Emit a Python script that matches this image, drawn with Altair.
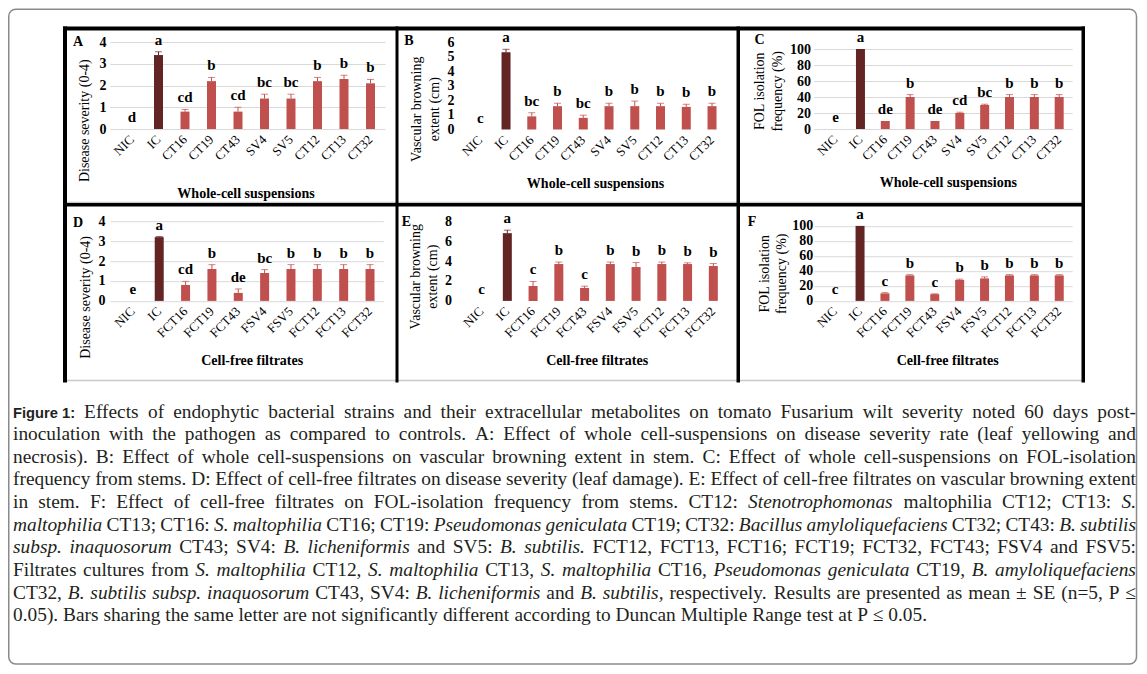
import altair as alt
import pandas as pd

# ---------------- data ----------------
cats_wc = ["NIC", "IC", "CT16", "CT19", "CT43", "SV4", "SV5", "CT12", "CT13", "CT32"]
cats_cf = ["NIC", "IC", "FCT16", "FCT19", "FCT43", "FSV4", "FSV5", "FCT12", "FCT13", "FCT32"]

sev_wc = [0, 3.4, 0.8, 2.2, 0.8, 1.4, 1.4, 2.2, 2.3, 2.1]
sev_wc_se = [0, 0.15, 0.1, 0.17, 0.2, 0.2, 0.2, 0.17, 0.17, 0.18]
sev_wc_let = ["d", "a", "cd", "b", "cd", "bc", "bc", "b", "b", "b"]

vb_wc = [0, 5.3, 0.9, 1.6, 0.8, 1.6, 1.6, 1.6, 1.55, 1.6]
vb_wc_se = [0, 0.2, 0.25, 0.2, 0.18, 0.2, 0.35, 0.2, 0.18, 0.2]
vb_wc_let = ["c", "a", "bc", "b", "bc", "b", "b", "b", "b", "b"]

fol_wc = [0, 100, 10, 40, 10, 20, 30, 40, 40, 40]
fol_wc_se = [0, 0, 0, 3, 0, 1, 1, 3, 3, 3]
fol_wc_let = ["e", "a", "de", "b", "de", "cd", "bc", "b", "b", "b"]

sev_cf = [0, 3.2, 0.8, 1.6, 0.4, 1.4, 1.6, 1.6, 1.6, 1.6]
sev_cf_se = [0, 0.03, 0.18, 0.22, 0.2, 0.17, 0.22, 0.22, 0.22, 0.22]
sev_cf_let = ["e", "a", "cd", "b", "de", "bc", "b", "b", "b", "b"]

vb_cf = [0, 6.8, 1.5, 3.7, 1.3, 3.7, 3.4, 3.7, 3.7, 3.5]
vb_cf_se = [0, 0.3, 0.45, 0.2, 0.18, 0.2, 0.45, 0.2, 0.12, 0.25]
vb_cf_let = ["c", "a", "c", "b", "c", "b", "b", "b", "b", "b"]

fol_cf = [0, 100, 10, 34, 9, 28, 30, 34, 34, 34]
fol_cf_se = [0, 0, 1, 1, 0.5, 1, 2, 1, 1, 1]
fol_cf_let = ["c", "a", "c", "b", "c", "b", "b", "b", "b", "b"]

CAPTION_LINES = [
    [("b", "Figure 1:"), ("n", "Effects of endophytic bacterial strains and their extracellular metabolites on tomato Fusarium wilt severity noted 60 days post-")],
    [("n", "inoculation with the pathogen as compared to controls. A: Effect of whole cell-suspensions on disease severity rate (leaf yellowing and")],
    [("n", "necrosis). B: Effect of whole cell-suspensions on vascular browning extent in stem. C: Effect of whole cell-suspensions on FOL-isolation")],
    [("n", "frequency from stems. D: Effect of cell-free filtrates on disease severity (leaf damage). E: Effect of cell-free filtrates on vascular browning extent")],
    [("n", "in stem. F: Effect of cell-free filtrates on FOL-isolation frequency from stems. CT12:"), ("i", "Stenotrophomonas"), ("n", "maltophilia CT12; CT13:"), ("i", "S.")],
    [("i", "maltophilia"), ("n", "CT13; CT16:"), ("i", "S. maltophilia"), ("n", "CT16; CT19:"), ("i", "Pseudomonas geniculata"), ("n", "CT19; CT32:"), ("i", "Bacillus amyloliquefaciens"), ("n", "CT32; CT43:"), ("i", "B. subtilis")],
    [("i", "subsp. inaquosorum"), ("n", "CT43; SV4:"), ("i", "B. licheniformis"), ("n", "and SV5:"), ("i", "B. subtilis."), ("n", "FCT12, FCT13, FCT16; FCT19; FCT32, FCT43; FSV4 and FSV5:")],
    [("n", "Filtrates cultures from"), ("i", "S. maltophilia"), ("n", "CT12,"), ("i", "S. maltophilia"), ("n", "CT13,"), ("i", "S. maltophilia"), ("n", "CT16,"), ("i", "Pseudomonas geniculata"), ("n", "CT19,"), ("i", "B. amyloliquefaciens")],
    [("n", "CT32,"), ("i", "B. subtilis subsp. inaquosorum"), ("n", "CT43, SV4:"), ("i", "B. licheniformis"), ("n", "and"), ("i", "B. subtilis,"), ("n", "respectively. Results are presented as mean ± SE (n=5, P ≤")],
    [("n", "0.05). Bars sharing the same letter are not significantly different according to Duncan Multiple Range test at P ≤ 0.05.")],
]

# ---------------- style ----------------
RED = "#C0504D"
DARK = "#632523"
SERIF = "Liberation Serif"

# page position of the first plot (A) and caption cell origin
PX0, PY0 = 110.0, 42.3
ROW1_H, ROW2_H = 87.5, 79.7
VSP, HSP = 91.2, 82.4
OX = PX0
OY = PY0 + ROW1_H + VSP + ROW2_H + VSP
TLH = 17.5  # line height of the two-line y titles


def panel(cats, vals, ses, lets, ymax, yvals, grid, W, H, S, L, letter, lpos,
          ytitle, ytpos, ylabpad, xtitle, xtpos):
    df = pd.DataFrame({
        "cat": cats,
        "mean": vals,
        "hi": [v + s for v, s in zip(vals, ses)],
        "let": lets,
        "kind": ["ic" if c == "IC" else "o" for c in cats],
    })
    extra = W - 10 * S
    po = max(extra, 0) / (2 * S)
    align = (L / extra) if extra > 0.01 else 0.5
    align = min(max(align, 0), 1)
    tx = ytpos[0]
    if isinstance(ytitle, list):
        tx -= TLH * (len(ytitle) - 1) / 2
    xscale = alt.Scale(domain=cats, paddingInner=0, paddingOuter=po, align=align)
    xaxis = alt.Axis(domain=False, ticks=False, labelAngle=315, labelAlign="right",
                     labelBaseline="middle", labelPadding=8, labelFont=SERIF,
                     labelFontSize=13, labelColor="black", title=xtitle,
                     titleFont=SERIF, titleFontSize=14, titleFontWeight="bold",
                     titleColor="black", titleX=xtpos[0], titleY=xtpos[1],
                     titleAlign="center", titleBaseline="middle")
    yscale = alt.Scale(domain=[0, ymax], nice=False, zero=True)
    yaxis = alt.Axis(values=yvals, grid=grid, gridColor="#d9d9d9", gridWidth=1,
                     domain=False, ticks=False, labelPadding=ylabpad, labelFont=SERIF,
                     labelFontSize=14, labelFontWeight="bold", labelColor="black",
                     title=ytitle, titleFont=SERIF, titleFontSize=14,
                     titleFontWeight="normal", titleColor="black", titleAngle=270,
                     titleAlign="center", titleBaseline="middle", titleX=tx,
                     titleY=ytpos[1], titleLineHeight=TLH)
    color = alt.Color("kind:N", scale=alt.Scale(domain=["ic", "o"], range=[DARK, RED]),
                      legend=None)
    base = alt.Chart(df).encode(x=alt.X("cat:N", sort=cats, scale=xscale, axis=xaxis))
    bars = base.mark_bar(size=9).encode(
        y=alt.Y("mean:Q", scale=yscale, axis=yaxis), color=color)
    err = base.transform_filter("datum.hi > datum.mean").mark_rule(strokeWidth=1).encode(
        y=alt.Y("mean:Q", scale=yscale, axis=yaxis), y2="hi:Q", color=color)
    cap = base.transform_filter("datum.hi > datum.mean").mark_tick(thickness=1, size=7).encode(
        y=alt.Y("hi:Q", scale=yscale, axis=yaxis), color=color)
    txt = base.mark_text(font=SERIF, fontSize=15, fontWeight="bold", baseline="alphabetic",
                         dy=-7, color="black").encode(
        y=alt.Y("hi:Q", scale=yscale, axis=yaxis), text="let:N")
    lab = alt.Chart(pd.DataFrame({"t": [letter]})).mark_text(
        font=SERIF, fontSize=14, fontWeight="bold", align="center", baseline="middle",
        color="black").encode(x=alt.value(lpos[0]), y=alt.value(lpos[1]), text="t:N")
    return alt.layer(bars, err, cap, txt, lab).properties(width=W, height=H)


pA = panel(cats_wc, sev_wc, sev_wc_se, sev_wc_let, 4, [0, 1, 2, 3, 4], True,
           275, 87, 26.5, 8.75, "A", (-32, 0.2), "Disease severity (0-4)", (-26, 78.2), 4,
           "Whole-cell suspensions", (135.5, 64.7))
pB = panel(cats_wc, vb_wc, vb_wc_se, vb_wc_let, 6, [0, 1, 2, 3, 4, 5, 6], False,
           263.5, 87.5, 25.75, 0, "B", (-58.4, -0.6), ["Vascular browning", "extent (cm)"],
           (-41.9, 66.7), 13.4, "Whole-cell suspensions", (127.6, 54))
pC = panel(cats_wc, fol_wc, fol_wc_se, fol_wc_let, 108.75, [0, 20, 40, 60, 80, 100], True,
           258.4, 87, 24.84, 9.4, "C", (-54.3, -1.8), ["FOL isolation", "frequency (%)"],
           (-45.3, 48.7), 3.3, "Whole-cell suspensions", (134, 53.4))
pD = panel(cats_cf, sev_cf, sev_cf_se, sev_cf_let, 4, [0, 1, 2, 3, 4], True,
           273.3, 79.7, 26.35, 9.7, "D", (-32, 1.3), "Disease severity (0-4)", (-25, 75.7), 5,
           "Cell-free filtrates", (141.7, 59.3))
pE = panel(cats_cf, vb_cf, vb_cf_se, vb_cf_let, 8, [0, 2, 4, 6, 8], False,
           263.5, 79.7, 25.75, 1.3, "E", (-61, 0.7), ["Vascular browning", "extent (cm)"],
           (-43.3, 55), 16, "Cell-free filtrates", (129.3, 59.3))
pF = panel(cats_cf, fol_cf, fol_cf_se, fol_cf_let, 100 * 79.7 / 75, [0, 20, 40, 60, 80, 100], True,
           258.4, 79.7, 24.9, 8.9, "F", (-61.8, 0.3), ["FOL isolation", "frequency (%)"],
           (-40.8, 52), 1, "Cell-free filtrates", (133.4, 59.3))

# ---------------- caption (justified words) ----------------
TR = {' ': 250, '%': 833, '(': 333, ')': 333, ',': 250, '-': 333, '.': 250, ':': 278, ';': 278,
      '=': 564, '±': 564, '≤': 549,
      'A': 722, 'B': 667, 'C': 667, 'D': 722, 'E': 611, 'F': 556, 'G': 722, 'H': 722, 'I': 333,
      'J': 389, 'K': 722, 'L': 611, 'M': 889, 'N': 722, 'O': 722, 'P': 556, 'Q': 722, 'R': 667,
      'S': 556, 'T': 611, 'U': 722, 'V': 722, 'W': 944, 'X': 722, 'Y': 722, 'Z': 611,
      'a': 444, 'b': 500, 'c': 444, 'd': 500, 'e': 444, 'f': 333, 'g': 500, 'h': 500, 'i': 278,
      'j': 278, 'k': 500, 'l': 278, 'm': 778, 'n': 500, 'o': 500, 'p': 500, 'q': 500, 'r': 333,
      's': 389, 't': 278, 'u': 500, 'v': 500, 'w': 722, 'x': 500, 'y': 500, 'z': 444}
TI = {' ': 250, '(': 333, ')': 333, ',': 250, '-': 333, '.': 250, ':': 333, ';': 333,
      'A': 611, 'B': 611, 'C': 667, 'D': 722, 'E': 611, 'F': 611, 'G': 722, 'H': 722, 'I': 333,
      'J': 444, 'K': 667, 'L': 556, 'M': 833, 'N': 667, 'O': 722, 'P': 611, 'Q': 722, 'R': 611,
      'S': 500, 'T': 556, 'U': 722, 'V': 611, 'W': 833, 'X': 611, 'Y': 556, 'Z': 556,
      'a': 500, 'b': 500, 'c': 444, 'd': 500, 'e': 444, 'f': 278, 'g': 500, 'h': 500, 'i': 278,
      'j': 278, 'k': 444, 'l': 278, 'm': 722, 'n': 500, 'o': 500, 'p': 500, 'q': 500, 'r': 389,
      's': 389, 't': 278, 'u': 500, 'v': 444, 'w': 667, 'x': 444, 'y': 444, 'z': 389}
AB = {'F': 611, 'i': 278, 'g': 611, 'u': 611, 'r': 389, 'e': 556, ' ': 278, '1': 556, ':': 333}

X_LEFT, X_RIGHT, LAST_END = 13.0, 1136.0, 927.0
BASE0, LSP = 417.0, 22.65
FSB = 14.7


def units(style, w):
    tab = TI if style == "i" else TR
    return sum(tab.get(ch, 500) for ch in w)


tok_lines = []
for line in CAPTION_LINES:
    toks = []
    for style, seg in line:
        if style == "b":
            toks.append((style, seg))
        else:
            toks += [(style, w) for w in seg.split(" ") if w]
    tok_lines.append(toks)

last = tok_lines[-1]
fs = (LAST_END - X_LEFT) / (sum(units(s, w) for s, w in last) + 250 * (len(last) - 1)) * 1000
for toks in tok_lines[:-1]:
    bw = sum(sum(AB.get(ch, 556) for ch in w) * FSB / 1000 for s, w in toks if s == "b")
    u = sum(units(s, w) for s, w in toks if s != "b")
    fs = min(fs, (X_RIGHT - X_LEFT - bw) / (u + 130 * (len(toks) - 1)) * 1000)

rows = []
for k, toks in enumerate(tok_lines):
    widths = []
    for s, w in toks:
        if s == "b":
            widths.append(sum(AB.get(ch, 556) for ch in w) * FSB / 1000)
        else:
            widths.append(units(s, w) * fs / 1000)
    if k == len(tok_lines) - 1:
        gap = 250 * fs / 1000
    else:
        gap = (X_RIGHT - X_LEFT - sum(widths)) / (len(toks) - 1)
    x = X_LEFT
    yb = BASE0 + k * LSP
    for (s, w), wd in zip(toks, widths):
        rows.append({"x": x - OX, "y": yb - OY, "t": w, "s": s})
        x += wd + gap
cap_df = pd.DataFrame(rows)

ONE = pd.DataFrame({"k": [0]})


def prect(x1, y1, x2, y2, color):
    return alt.Chart(ONE).mark_rect(color=color).encode(
        x=alt.value(x1 - OX), x2=alt.value(x2 - OX), y=alt.value(y1 - OY), y2=alt.value(y2 - OY))


frame = alt.Chart(ONE).mark_rect(fill="white", fillOpacity=0, stroke="#8a8a8a",
                                 strokeWidth=1.5, cornerRadius=7).encode(
    x=alt.value(8.75 - OX), x2=alt.value(1136.5 - OX),
    y=alt.value(8.75 - OY), y2=alt.value(663.5 - OY))

borders = [
    prect(63, 379.3, 1085, 380.8, "#c8c8c8"),
    prect(63, 201.3, 1085, 202.5, "#c8c8c8"),
    prect(63, 26, 1085, 30, "black"),
    prect(63, 26, 67, 382, "black"),
    prect(1081.5, 26, 1085, 382, "black"),
    prect(63, 202.5, 1085, 206, "black"),
    prect(395.5, 26, 398.5, 382, "black"),
    prect(736.5, 26, 740, 382, "black"),
]

txt_n = alt.Chart(cap_df).transform_filter("datum.s == 'n'").mark_text(
    font=SERIF, fontSize=fs, align="left", baseline="alphabetic", color="#231f20").encode(
    x=alt.X("x:Q", scale=None, axis=None), y=alt.Y("y:Q", scale=None, axis=None), text="t:N")
txt_i = alt.Chart(cap_df).transform_filter("datum.s == 'i'").mark_text(
    font=SERIF, fontSize=fs, fontStyle="italic", align="left", baseline="alphabetic",
    color="#231f20").encode(
    x=alt.X("x:Q", scale=None, axis=None), y=alt.Y("y:Q", scale=None, axis=None), text="t:N")
txt_b = alt.Chart(cap_df).transform_filter("datum.s == 'b'").mark_text(
    font="Liberation Sans", fontSize=FSB, fontWeight="bold", align="left", baseline="alphabetic",
    color="#231f20").encode(
    x=alt.X("x:Q", scale=None, axis=None), y=alt.Y("y:Q", scale=None, axis=None), text="t:N")

caption = alt.layer(frame, *borders, txt_n, txt_i, txt_b).properties(width=1, height=1)

chart = alt.concat(pA, pB, pC, pD, pE, pF, caption, columns=3,
                   spacing={"row": VSP, "column": HSP}, bounds="flush").properties(
    padding=0, background="white").configure_view(strokeWidth=0).configure_axis(
    labelFont=SERIF, titleFont=SERIF).configure_text(font=SERIF)

chart.save("out.html", embed_options={"renderer": "svg", "actions": False})
